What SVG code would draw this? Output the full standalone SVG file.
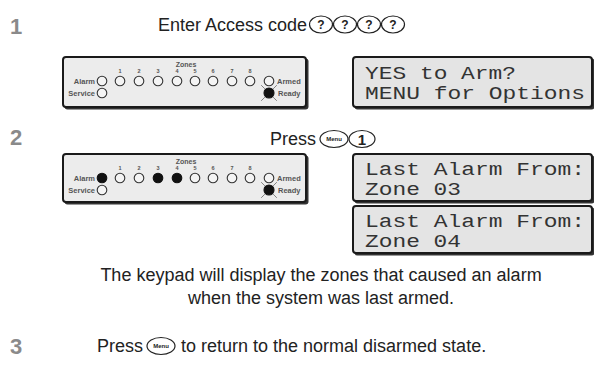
<svg xmlns="http://www.w3.org/2000/svg" width="594" height="367" viewBox="0 0 594 367">
<defs>
<style>
.step{font-family:"Liberation Sans",Arial,sans-serif;font-weight:bold;font-size:22px;fill:#8a8a8a}
.txt{font-family:"Liberation Sans",Arial,sans-serif;font-size:18px;fill:#222}
.kp{fill:#ececec;stroke:#1a1a1a;stroke-width:2}
.kps{fill:#333}
.lbl{font-family:"Liberation Sans",Arial,sans-serif;font-weight:bold;font-size:7.5px;fill:#555}
.zn{font-family:"Liberation Sans",Arial,sans-serif;font-weight:bold;font-size:7px;fill:#555;text-anchor:middle}
.num{font-family:"Liberation Sans",Arial,sans-serif;font-weight:bold;font-size:5.5px;fill:#555;text-anchor:middle}
.led{fill:#f4f4f4;stroke:#333;stroke-width:1.1}
.on{fill:#111;stroke:#111;stroke-width:1.1}
.lcd{fill:#e4e4e4;stroke:#1a1a1a;stroke-width:2}
.lcdt{font-family:"Liberation Mono","DejaVu Sans Mono",monospace;font-size:17.5px;fill:#333}
.key{fill:#fff;stroke:#222;stroke-width:1.2}
.keyt{font-family:"Liberation Sans",Arial,sans-serif;font-weight:bold;fill:#222;text-anchor:middle}
.ray{stroke:#333;stroke-width:1;stroke-dasharray:1.5 1.2}
</style>
<g id="rdy">
<circle r="5" class="on"/>
<path class="ray" d="M-4.5,-4.5 L-7.5,-7.5 M4.5,-4.5 L7.5,-7.5 M-4.5,4.5 L-7.5,7.5 M4.5,4.5 L7.5,7.5"/>
</g>
</defs>

<g id="step1">
<text class="step" x="10" y="34">1</text>
<text class="txt" x="158" y="31">Enter Access code</text>
<ellipse class="key" cx="321" cy="24.5" rx="11.5" ry="8.5"/>
<text class="keyt" x="321" y="29" font-size="12">?</text>
<ellipse class="key" cx="345" cy="24.5" rx="11.5" ry="8.5"/>
<text class="keyt" x="345" y="29" font-size="12">?</text>
<ellipse class="key" cx="369" cy="24.5" rx="11.5" ry="8.5"/>
<text class="keyt" x="369" y="29" font-size="12">?</text>
<ellipse class="key" cx="393" cy="24.5" rx="11.5" ry="8.5"/>
<text class="keyt" x="393" y="29" font-size="12">?</text>
</g>

<g id="keypad1">
<rect class="kps" x="64.5" y="58.5" width="244" height="51" rx="3"/>
<rect class="kp" x="63" y="57" width="243" height="50" rx="3"/>
<text class="zn" x="186" y="66.5">Zones</text>
<text class="num" x="120" y="73">1</text><text class="num" x="139" y="73">2</text><text class="num" x="158" y="73">3</text><text class="num" x="177" y="73">4</text><text class="num" x="195" y="73">5</text><text class="num" x="213" y="73">6</text><text class="num" x="232" y="73">7</text><text class="num" x="250" y="73">8</text>
<text class="lbl" x="95" y="83.5" text-anchor="end">Alarm</text>
<circle class="led" cx="102" cy="81" r="4.8"/>
<circle class="led" cx="120" cy="81" r="4.8"/><circle class="led" cx="139" cy="81" r="4.8"/><circle class="led" cx="158" cy="81" r="4.8"/><circle class="led" cx="177" cy="81" r="4.8"/><circle class="led" cx="195" cy="81" r="4.8"/><circle class="led" cx="213" cy="81" r="4.8"/><circle class="led" cx="232" cy="81" r="4.8"/><circle class="led" cx="250" cy="81" r="4.8"/>
<circle class="led" cx="269" cy="81" r="4.8"/>
<text class="lbl" x="277" y="83.5">Armed</text>
<text class="lbl" x="95" y="95.5" text-anchor="end">Service</text>
<circle class="led" cx="102" cy="93" r="4.8"/>
<use href="#rdy" x="269" y="93"/>
<text class="lbl" x="278" y="95.5">Ready</text>
</g>

<g id="lcd1">
<rect class="kps" x="354.5" y="58.5" width="240" height="51" rx="3"/>
<rect class="lcd" x="353" y="57" width="239" height="50" rx="3"/>
<text class="lcdt"><tspan x="365" y="78.5" textLength="151" lengthAdjust="spacingAndGlyphs">YES to Arm?</tspan><tspan x="365" y="98.5" textLength="220" lengthAdjust="spacingAndGlyphs">MENU for Options</tspan></text>
</g>

<g id="step2">
<text class="step" x="10" y="145">2</text>
<text class="txt" x="270" y="145">Press</text>
<ellipse class="key" cx="334" cy="139" rx="14" ry="8.5"/>
<text class="keyt" x="334" y="141.2" font-size="6">Menu</text>
<ellipse class="key" cx="362" cy="139" rx="13" ry="8.5"/>
<text class="keyt" x="362" y="144.5" font-size="15">1</text>
</g>

<g id="keypad2">
<rect class="kps" x="64.5" y="155.5" width="244" height="49" rx="3"/>
<rect class="kp" x="63" y="154" width="243" height="48" rx="3"/>
<text class="zn" x="186" y="163.5">Zones</text>
<text class="num" x="120" y="170">1</text><text class="num" x="139" y="170">2</text><text class="num" x="158" y="170">3</text><text class="num" x="177" y="170">4</text><text class="num" x="195" y="170">5</text><text class="num" x="213" y="170">6</text><text class="num" x="232" y="170">7</text><text class="num" x="250" y="170">8</text>
<text class="lbl" x="95" y="180.5" text-anchor="end">Alarm</text>
<circle class="on" cx="102" cy="178" r="4.8"/>
<circle class="led" cx="120" cy="178" r="4.8"/><circle class="led" cx="139" cy="178" r="4.8"/><circle class="on" cx="158" cy="178" r="4.8"/><circle class="on" cx="177" cy="178" r="4.8"/><circle class="led" cx="195" cy="178" r="4.8"/><circle class="led" cx="213" cy="178" r="4.8"/><circle class="led" cx="232" cy="178" r="4.8"/><circle class="led" cx="250" cy="178" r="4.8"/>
<circle class="led" cx="269" cy="178" r="4.8"/>
<text class="lbl" x="277" y="180.5">Armed</text>
<text class="lbl" x="95" y="192.5" text-anchor="end">Service</text>
<circle class="led" cx="102" cy="190" r="4.8"/>
<use href="#rdy" x="269" y="190"/>
<text class="lbl" x="278" y="192.5">Ready</text>
</g>

<g id="lcd2">
<rect class="kps" x="354.5" y="155.5" width="240" height="48" rx="3"/>
<rect class="lcd" x="353" y="154" width="239" height="47" rx="3"/>
<text class="lcdt"><tspan x="365" y="174.5" textLength="220" lengthAdjust="spacingAndGlyphs">Last Alarm From:</tspan><tspan x="365" y="194.5" textLength="96" lengthAdjust="spacingAndGlyphs">Zone 03</tspan></text>
</g>

<g id="lcd3">
<rect class="kps" x="354.5" y="207.5" width="240" height="48" rx="3"/>
<rect class="lcd" x="353" y="206" width="239" height="47" rx="3"/>
<text class="lcdt"><tspan x="365" y="226.5" textLength="220" lengthAdjust="spacingAndGlyphs">Last Alarm From:</tspan><tspan x="365" y="246.5" textLength="96" lengthAdjust="spacingAndGlyphs">Zone 04</tspan></text>
</g>

<g id="note">
<text class="txt" x="321" y="281" text-anchor="middle">The keypad will display the zones that caused an alarm</text>
<text class="txt" x="321" y="304" text-anchor="middle">when the system was last armed.</text>
</g>

<g id="step3">
<text class="step" x="10" y="354">3</text>
<text class="txt" x="97" y="352">Press</text>
<ellipse class="key" cx="161" cy="346" rx="14" ry="8.5"/>
<text class="keyt" x="161" y="348.2" font-size="6">Menu</text>
<text class="txt" x="181" y="352">to return to the normal disarmed state.</text>
</g>
</svg>
